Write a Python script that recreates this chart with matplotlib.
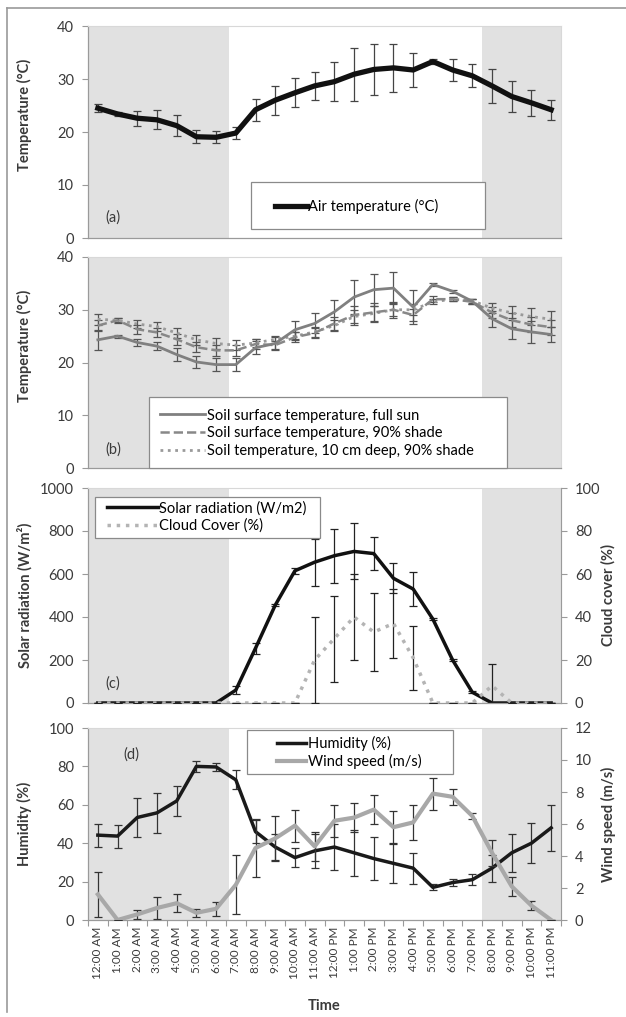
import numpy as np
import matplotlib
matplotlib.use('Agg')
from matplotlib import pyplot as plt
from matplotlib.lines import Line2D
from matplotlib.patches import Rectangle

plt.rcParams['font.family'] = ['Lato', 'DejaVu Sans']

hours = ['12:00 AM', '1:00 AM', '2:00 AM', '3:00 AM', '4:00 AM', '5:00 AM',
         '6:00 AM', '7:00 AM', '8:00 AM', '9:00 AM', '10:00 AM', '11:00 AM',
         '12:00 PM', '1:00 PM', '2:00 PM', '3:00 PM', '4:00 PM', '5:00 PM',
         '6:00 PM', '7:00 PM', '8:00 PM', '9:00 PM', '10:00 PM', '11:00 PM']

# (a) air temperature
air_temp = [24.5, 23.4, 22.6, 22.3, 21.2, 19.1, 19.0, 19.8, 24.2, 26.0, 27.4, 28.7,
            29.5, 30.9, 31.8, 32.1, 31.7, 33.3, 31.7, 30.6, 28.7, 26.7, 25.5, 24.2]
air_err = [0.7, 0.3, 1.4, 1.8, 2.0, 1.2, 1.1, 1.1, 2.1, 2.7, 2.7, 2.6,
           3.7, 5.0, 4.8, 4.5, 3.3, 0.5, 2.0, 2.2, 3.2, 3.0, 2.4, 1.9]

# (b) soil temperatures
sun_temp = [24.3, 25.0, 23.8, 23.1, 21.5, 20.1, 19.6, 19.6, 22.8, 23.6, 26.2, 27.4,
            29.6, 32.4, 33.8, 34.1, 30.5, 34.8, 33.5, 31.6, 28.3, 26.4, 25.8, 25.3]
sun_err = [1.9, 0.3, 0.7, 0.8, 1.3, 1.2, 1.2, 1.2, 1.2, 1.2, 1.7, 1.9,
           2.3, 3.2, 3.0, 3.0, 3.2, 0.3, 0.3, 0.5, 1.5, 2.0, 2.1, 1.5]
shade_temp = [27.0, 28.0, 26.3, 25.7, 24.4, 22.9, 22.3, 22.3, 23.5, 23.3, 24.8, 25.6,
              27.4, 29.0, 29.5, 30.0, 29.0, 32.0, 32.0, 31.5, 29.5, 28.0, 27.2, 26.7]
shade_err = [1.0, 0.5, 0.9, 0.9, 1.0, 1.0, 1.0, 1.0, 0.9, 0.8, 0.9, 1.0,
             1.3, 1.8, 1.8, 1.5, 1.2, 0.6, 0.4, 0.5, 1.0, 1.3, 1.5, 1.4]
deep_temp = [28.2, 28.0, 27.3, 26.8, 25.6, 24.3, 23.6, 23.3, 23.7, 24.4, 25.0, 25.8,
             27.0, 28.7, 29.3, 30.0, 30.0, 31.5, 32.0, 31.7, 30.3, 29.4, 28.7, 28.2]
deep_err = [1.0, 0.4, 0.8, 0.8, 1.0, 1.0, 1.0, 1.0, 0.7, 0.7, 0.8, 0.9,
            1.0, 1.3, 1.5, 1.2, 1.0, 0.5, 0.4, 0.4, 1.0, 1.4, 1.6, 1.5]

# (c) solar radiation and cloud cover
solar = [0, 0, 0, 0, 0, 0, 0, 60, 255, 455, 615, 655,
         685, 705, 695, 580, 530, 390, 200, 50, 0, 0, 0, 0]
solar_err = [0, 0, 0, 0, 0, 0, 0, 20, 25, 5, 15, 110,
             125, 130, 75, 70, 80, 5, 5, 5, 0, 0, 0, 0]
cloud = [0, 0, 0, 0, 0, 0, 0, 0, 0, 0, 0, 20,
         30, 40, 33, 37, 21, 0, 0, 0, 8, 0, 0, 0]
cloud_err = [0, 0, 0, 0, 0, 0, 0, 0, 0, 0, 0, 20,
             20, 20, 18, 16, 15, 0, 0, 0, 10, 0, 0, 0]

# (d) humidity and wind speed
humidity = [44.2, 43.7, 53.4, 55.8, 62.0, 80.0, 79.7, 73.0, 46.0, 38.0, 32.5, 36.0,
            38.0, 35.0, 32.0, 29.5, 27.0, 17.0, 19.5, 21.0, 27.0, 35.0, 40.0, 48.0]
humidity_err = [6.0, 6.0, 10.0, 10.5, 8.0, 3.0, 2.0, 5.0, 6.0, 7.0, 5.0, 9.0,
                12.0, 12.0, 11.0, 10.0, 8.0, 1.5, 2.0, 3.0, 7.0, 10.0, 10.5, 12.0]
wind = [1.6, 0.0, 0.35, 0.75, 1.05, 0.45, 0.7, 2.2, 4.5, 5.1, 5.9, 4.6,
        6.2, 6.4, 6.9, 5.8, 6.1, 7.9, 7.7, 6.5, 4.2, 2.1, 0.9, 0.0]
wind_err = [1.4, 0.0, 0.3, 0.7, 0.55, 0.25, 0.45, 1.85, 1.8, 1.4, 1.0, 0.9,
            1.0, 0.9, 0.9, 1.0, 1.1, 1.0, 0.5, 0.2, 0.8, 0.6, 0.3, 0.0]

x = np.arange(len(hours))
shade_col = '#e1e1e1'
axis_col = '#9a9a9a'
txt_col = '#3a3a3a'
fs = 10.5

fig = plt.figure(figsize=(6.26, 10.17), dpi=100)
W, H = 626.0, 1017.0
left, right = 88 / W, 561 / W
ylab_x = -0.118
rlab_x = 1.085


def make_ax(top_px, bot_px):
    ax = fig.add_axes([left, 1 - bot_px / H, right - left, (bot_px - top_px) / H])
    ax.axvspan(-0.5, 6.65, color=shade_col, zorder=0, lw=0)
    ax.axvspan(19.5, 23.5, color=shade_col, zorder=0, lw=0)
    ax.set_xlim(-0.5, 23.5)
    for s in ['top', 'right']:
        ax.spines[s].set_color('#d8d8d8')
        ax.spines[s].set_linewidth(0.8)
    for s in ['left', 'bottom']:
        ax.spines[s].set_color(axis_col)
        ax.spines[s].set_linewidth(0.9)
    ax.tick_params(axis='y', direction='out', length=4, width=0.8, color=axis_col,
                   labelsize=fs, labelcolor=txt_col, pad=6)
    ax.set_xticks([])
    return ax


def right_axis(ax):
    axr = ax.twinx()
    axr.set_xlim(-0.5, 23.5)
    axr.spines['right'].set_color(axis_col)
    for s in ['top', 'left', 'bottom']:
        axr.spines[s].set_visible(False)
    axr.tick_params(axis='y', direction='out', length=4, width=0.8, color=axis_col,
                    labelsize=fs, labelcolor=txt_col, pad=6)
    return axr


def legend_box(ax, x0, y0, x1, y1):
    ax.add_patch(Rectangle((x0, y0), x1 - x0, y1 - y0, transform=ax.transAxes,
                           facecolor='white', edgecolor='#8a8a8a', lw=0.9,
                           zorder=5, clip_on=False))


ebk = dict(elinewidth=0.9, capsize=3, capthick=0.9)

# ---- (a)
ax1 = make_ax(26, 238)
ax1.errorbar(x, air_temp, yerr=air_err, color='#111111', lw=3.8, ecolor='#444444', **ebk)
ax1.set_ylim(0, 40)
ax1.set_yticks([0, 10, 20, 30, 40])
ax1.set_ylabel('Temperature (°C)', fontsize=fs, fontweight='bold', color=txt_col)
ax1.yaxis.set_label_coords(ylab_x, 0.58)
ax1.text(0.036, 0.075, '(a)', transform=ax1.transAxes, fontsize=fs, color=txt_col)
legend_box(ax1, 0.345, 0.042, 0.839, 0.264)
lg = ax1.legend([Line2D([], [], color='#111111', lw=3.8)], ['Air temperature (°C)'],
                loc='center left', bbox_to_anchor=(0.395, 0.15), frameon=False,
                fontsize=fs, handlelength=2.2, handletextpad=0.1, borderpad=0,
                borderaxespad=0)
lg.set_zorder(6)

# ---- (b)
ax2 = make_ax(257, 468)
ax2.errorbar(x, deep_temp, yerr=deep_err, color='#9a9a9a', lw=2, ls=':', ecolor='#555555', **ebk)
ax2.errorbar(x, shade_temp, yerr=shade_err, color='#888888', lw=1.8, ls='--', ecolor='#555555', **ebk)
ax2.errorbar(x, sun_temp, yerr=sun_err, color='#808080', lw=2, ecolor='#555555', **ebk)
ax2.set_ylim(0, 40)
ax2.set_yticks([0, 10, 20, 30, 40])
ax2.set_ylabel('Temperature (°C)', fontsize=fs, fontweight='bold', color=txt_col)
ax2.yaxis.set_label_coords(ylab_x, 0.58)
ax2.text(0.036, 0.07, '(b)', transform=ax2.transAxes, fontsize=fs, color=txt_col)
legend_box(ax2, 0.129, 0.0, 0.886, 0.336)
lg = ax2.legend([Line2D([], [], color='#808080', lw=2),
                 Line2D([], [], color='#888888', lw=1.8, ls='--'),
                 Line2D([], [], color='#9a9a9a', lw=2, ls=':')],
                ['Soil surface temperature, full sun',
                 'Soil surface temperature, 90% shade',
                 'Soil temperature, 10 cm deep, 90% shade'],
                loc='center left', bbox_to_anchor=(0.152, 0.165), frameon=False,
                fontsize=fs, handlelength=3.1, handletextpad=0.15, borderpad=0,
                borderaxespad=0, labelspacing=0.25)
lg.set_zorder(6)

# ---- (c)
ax3 = make_ax(488, 703)
ax3.errorbar(x, solar, yerr=solar_err, color='#111111', lw=2.5, ecolor='#222222', **ebk)
ax3.set_ylim(0, 1000)
ax3.set_yticks(range(0, 1001, 200))
ax3.set_ylabel('Solar radiation (W/m²)', fontsize=fs, fontweight='bold', color=txt_col)
ax3.yaxis.set_label_coords(ylab_x, 0.5)
ax3.text(0.036, 0.07, '(c)', transform=ax3.transAxes, fontsize=fs, color=txt_col)
ax3r = right_axis(ax3)
ax3r.errorbar(x, cloud, yerr=cloud_err, color='#b4b4b4', lw=2.5, ls=':', ecolor='#222222', **ebk)
ax3r.set_ylim(0, 100)
ax3r.set_yticks(range(0, 101, 20))
ax3r.set_ylabel('Cloud cover (%)', fontsize=fs, fontweight='bold', color=txt_col)
ax3r.yaxis.set_label_coords(rlab_x, 0.5)
legend_box(ax3r, 0.015, 0.767, 0.49, 0.958)
lg = ax3r.legend([Line2D([], [], color='#111111', lw=2.5),
                  Line2D([], [], color='#b4b4b4', lw=2.5, ls=':')],
                 ['Solar radiation (W/m2)', 'Cloud Cover (%)'],
                 loc='center left', bbox_to_anchor=(0.04, 0.865), frameon=False,
                 fontsize=fs, handlelength=3.5, handletextpad=0.1, borderpad=0,
                 borderaxespad=0, labelspacing=0.2)
lg.set_zorder(6)

# ---- (d)
ax4 = make_ax(728, 920)
ax4.errorbar(x, humidity, yerr=humidity_err, color='#1a1a1a', lw=2.5, ecolor='#333333', **ebk)
ax4.set_ylim(0, 100)
ax4.set_yticks(range(0, 101, 20))
ax4.set_ylabel('Humidity (%)', fontsize=fs, fontweight='bold', color=txt_col)
ax4.yaxis.set_label_coords(ylab_x, 0.5)
ax4.text(0.075, 0.84, '(d)', transform=ax4.transAxes, fontsize=fs, color=txt_col)
ax4.set_xticks(x)
ax4.set_xticklabels(hours, rotation=90, fontsize=8.5, color=txt_col)
ax4.set_xticks(np.arange(-0.5, 24, 1), minor=True)
ax4.tick_params(axis='x', which='major', length=0, pad=5)
ax4.tick_params(axis='x', which='minor', length=4, width=0.8, color=axis_col)
ax4.set_xlabel('Time', fontsize=fs, fontweight='bold', color=txt_col, labelpad=14)
ax4r = right_axis(ax4)
ax4r.errorbar(x, wind, yerr=wind_err, color='#a8a8a8', lw=3, ecolor='#333333', **ebk)
ax4r.set_ylim(0, 12)
ax4r.set_yticks(range(0, 13, 2))
ax4r.set_ylabel('Wind speed (m/s)', fontsize=fs, fontweight='bold', color=txt_col)
ax4r.yaxis.set_label_coords(rlab_x, 0.5)
legend_box(ax4r, 0.336, 0.76, 0.772, 0.99)
lg = ax4r.legend([Line2D([], [], color='#1a1a1a', lw=2.5),
                  Line2D([], [], color='#a8a8a8', lw=3)],
                 ['Humidity (%)', 'Wind speed (m/s)'],
                 loc='center left', bbox_to_anchor=(0.40, 0.872), frameon=False,
                 fontsize=fs, handlelength=2.0, handletextpad=0.1, borderpad=0,
                 borderaxespad=0, labelspacing=0.2)
lg.set_zorder(6)

# outer frame (left and top edges)
fig.add_artist(Line2D([7 / W, 7 / W], [1 - 1012 / H, 1 - 8 / H], color='#9a9a9a', lw=1.2))
fig.add_artist(Line2D([7 / W, 1.0], [1 - 8 / H, 1 - 8 / H], color='#9a9a9a', lw=1.2))

fig.savefig('out.png', dpi=100)
